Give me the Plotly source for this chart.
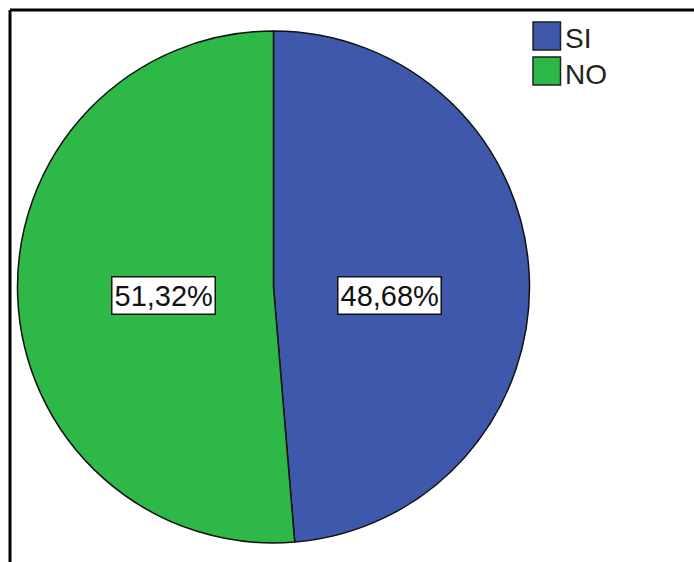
import math
import plotly.graph_objects as go

# Data
categories = ["SI", "NO"]
percentages = [48.68, 51.32]
colors = ["#3E58AC", "#2EB848"]

W, H = 694, 562
# Pie placement in pixels
cx, cy, r = 273.5, 287.0, 256.0


def px_x(x):
    return x / W


def px_y(y):
    return 1 - y / H


fig = go.Figure(
    go.Pie(
        labels=categories,
        values=percentages,
        marker=dict(colors=colors, line=dict(color="#111111", width=1.5)),
        sort=False,
        direction="clockwise",
        rotation=0,
        textinfo="none",
        hoverinfo="label+percent",
        showlegend=False,
        domain=dict(x=[px_x(cx - r), px_x(cx + r)], y=[px_y(cy + r), px_y(cy - r)]),
    )
)

# Percentage labels in white boxes, placed horizontally along each slice's mid-angle
total = sum(percentages)
start = 0.0
annotations = []
for cat, val in zip(categories, percentages):
    frac = val / total
    mid = (start + frac / 2) * 2 * math.pi
    start += frac
    d = 0.443 * r
    lx = cx + 3 + d * math.sin(mid)
    ly = cy + 8.5
    annotations.append(
        dict(
            x=px_x(lx), y=px_y(ly), xref="paper", yref="paper",
            text=f"{val:.2f}%".replace(".", ","),
            showarrow=False,
            font=dict(family="Liberation Sans, Arial", size=29, color="#111111"),
            bgcolor="white", bordercolor="#111111", borderwidth=1.5, borderpad=2,
            xanchor="center", yanchor="middle",
        )
    )

# Legend drawn as swatches with text
shapes = []
for i, (cat, col) in enumerate(zip(categories, colors)):
    top = 22 + i * 35
    shapes.append(
        dict(
            type="rect", xref="paper", yref="paper",
            x0=px_x(533), x1=px_x(560.5), y0=px_y(top + 28), y1=px_y(top),
            fillcolor=col, line=dict(color="#222222", width=1.5),
        )
    )
    annotations.append(
        dict(
            x=px_x(563), y=px_y(top + 17), xref="paper", yref="paper",
            text=cat, showarrow=False,
            font=dict(family="Liberation Sans, Arial", size=28, color="#222222"),
            xanchor="left", yanchor="middle",
        )
    )

# Frame lines: top and left
shapes.append(dict(type="line", xref="paper", yref="paper",
                   x0=px_x(10), x1=1, y0=px_y(10), y1=px_y(10),
                   line=dict(color="black", width=3)))
shapes.append(dict(type="line", xref="paper", yref="paper",
                   x0=px_x(10), x1=px_x(10), y0=px_y(10), y1=0,
                   line=dict(color="black", width=3)))

fig.update_layout(
    width=W, height=H,
    margin=dict(l=0, r=0, t=0, b=0),
    paper_bgcolor="white", plot_bgcolor="white",
    annotations=annotations, shapes=shapes,
)

fig.write_html("out.html")
